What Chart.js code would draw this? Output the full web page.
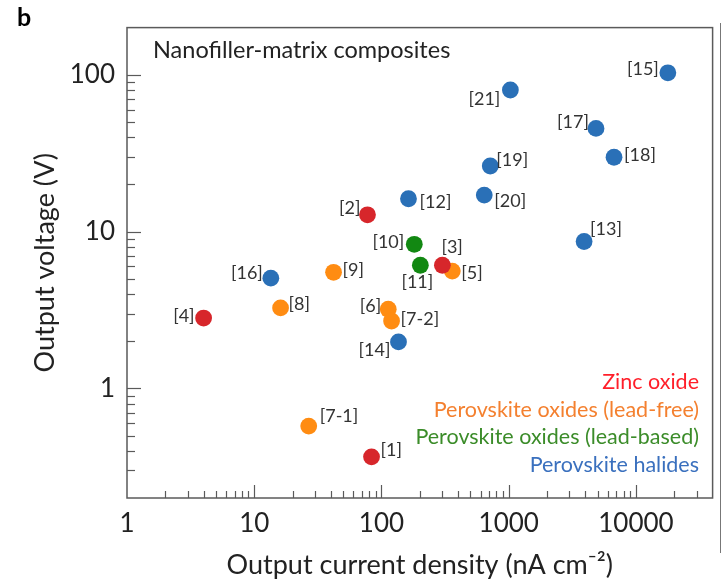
<!DOCTYPE html>
<html>
<head>
<meta charset="utf-8">
<script src="https://cdn.jsdelivr.net/npm/chart.js@4.4.0/dist/chart.umd.min.js"></script>
<style>
  html, body { margin: 0; padding: 0; background: #fff; }
  #wrap { width: 721px; height: 586px; }
</style>
</head>
<body>
<div id="wrap"><canvas id="grafico" width="721" height="586"></canvas></div>
<script>
// Categorías (leyenda) y datos por serie: [corriente nA/cm2, voltaje V]
const categorias = ["Zinc oxide", "Perovskite oxides (lead-free)", "Perovskite oxides (lead-based)", "Perovskite halides"];

const refsZnO = ["[1]", "[2]", "[3]", "[4]"];
const corrienteZnO = [83.5, 77.6, 301, 4.0];
const voltajeZnO = [0.366, 12.8, 6.1, 2.81];

const refsLibre = ["[5]", "[6]", "[7-1]", "[7-2]", "[8]", "[9]"];
const corrienteLibre = [360, 113, 26.8, 120, 16.1, 42];
const voltajeLibre = [5.6, 3.2, 0.575, 2.69, 3.26, 5.5];

const refsPlomo = ["[10]", "[11]"];
const corrientePlomo = [181, 202];
const voltajePlomo = [8.3, 6.1];

const refsHaluros = ["[12]", "[13]", "[14]", "[15]", "[16]", "[17]", "[18]", "[19]", "[20]", "[21]"];
const corrienteHaluros = [163, 3910, 136, 17800, 13.5, 4850, 6720, 716, 642, 1030];
const voltajeHaluros = [16.2, 8.65, 1.98, 103, 5.05, 45.5, 29.8, 26.2, 17.1, 80];

const ticksX = [1, 10, 100, 1000, 10000];
const ticksY = [1, 10, 100];

// estilos
const coloresPunto = ["#d7262b", "#ff8c12", "#128812", "#2a70b7"];
const coloresTexto = ["#ff1f2a", "#f4802f", "#3b8c29", "#3a70be"];
const fuente = "Lato, 'Open Sans', sans-serif";

// posición de cada etiqueta respecto a su punto: [dx, dy, alineación]
const posEtiqueta = {
  "[1]": [9, -7, "left"], "[2]": [-7, -7, "right"], "[3]": [-1, -18, "left"], "[4]": [-9, -2, "right"],
  "[5]": [9, 2, "left"], "[6]": [-7, -3, "right"], "[7-1]": [11, -10, "left"], "[7-2]": [9, -2, "left"],
  "[8]": [8, -4, "left"], "[9]": [9, -2, "left"], "[10]": [-10, -2, "right"], "[11]": [-3, 17, "center"],
  "[12]": [11, 3, "left"], "[13]": [6, -12, "left"], "[14]": [-8, 8, "right"], "[15]": [-9, -4, "right"],
  "[16]": [-8, -5, "right"], "[17]": [-7, -6, "right"], "[18]": [10, -2, "left"], "[19]": [6, -6, "left"],
  "[20]": [10, 6, "left"], "[21]": [-10, 9, "right"]
};

const series = [
  [refsZnO, corrienteZnO, voltajeZnO],
  [refsLibre, corrienteLibre, voltajeLibre],
  [refsPlomo, corrientePlomo, voltajePlomo],
  [refsHaluros, corrienteHaluros, voltajeHaluros]
];

const datasets = series.map((s, i) => ({
  label: categorias[i],
  data: s[1].map((x, j) => ({ x: x, y: s[2][j], ref: s[0][j] })),
  backgroundColor: coloresPunto[i],
  borderColor: coloresPunto[i],
  borderWidth: 0,
  pointRadius: 8.4,
  pointHoverRadius: 8.4
}));

// marco, marcas interiores, etiquetas y textos
const extras = {
  id: 'extras',
  afterDraw(chart) {
    const ctx = chart.ctx;
    const a = chart.chartArea;
    const sx = chart.scales.x, sy = chart.scales.y;
    ctx.save();
    ctx.strokeStyle = '#5a5a5a';
    ctx.lineWidth = 1.5;
    ctx.strokeRect(a.left, a.top, a.right - a.left, a.bottom - a.top);

    // marcas eje x
    ctx.lineWidth = 1.2;
    for (let d = 0; d <= 4; d++) {
      for (let k = 1; k <= 9; k++) {
        const v = k * Math.pow(10, d);
        if (v <= sx.min || v >= sx.max) continue;
        const px = Math.round(sx.getPixelForValue(v)) + 0.5;
        const len = k === 1 ? 13 : 7;
        ctx.beginPath(); ctx.moveTo(px, a.bottom); ctx.lineTo(px, a.bottom - len); ctx.stroke();
      }
    }
    // marcas eje y
    for (let d = -1; d <= 2; d++) {
      for (let k = 1; k <= 9; k++) {
        const v = k * Math.pow(10, d);
        if (v <= sy.min || v >= sy.max) continue;
        const py = Math.round(sy.getPixelForValue(v)) + 0.5;
        const len = k === 1 ? 14 : 8;
        ctx.beginPath(); ctx.moveTo(a.left, py); ctx.lineTo(a.left + len, py); ctx.stroke();
      }
    }

    // línea extra del borde derecho
    ctx.strokeStyle = '#777';
    ctx.lineWidth = 1;
    ctx.beginPath(); ctx.moveTo(720.5, 23); ctx.lineTo(720.5, 553); ctx.stroke();

    // etiquetas de referencia
    ctx.fillStyle = '#333';
    ctx.font = "18px " + fuente;
    ctx.textBaseline = 'middle';
    chart.data.datasets.forEach((ds, i) => {
      const meta = chart.getDatasetMeta(i);
      meta.data.forEach((pt, j) => {
        const ref = ds.data[j].ref;
        const p = posEtiqueta[ref];
        ctx.textAlign = p[2];
        ctx.fillText(ref, pt.x + p[0], pt.y + p[1]);
      });
    });

    // leyenda de texto
    ctx.font = "21.5px " + fuente;
    ctx.textAlign = 'right';
    categorias.forEach((c, i) => {
      ctx.fillStyle = coloresTexto[i];
      ctx.fillText(c, 699, 382 + i * 27.7);
    });

    // título interior
    ctx.fillStyle = '#222';
    ctx.font = "23.5px " + fuente;
    ctx.textAlign = 'left';
    ctx.fillText("Nanofiller-matrix composites", 153, 50);

    // letra del panel
    ctx.font = "bold 25px " + fuente;
    ctx.fillStyle = '#000';
    ctx.textBaseline = 'alphabetic';
    ctx.fillText("b", 17, 26);
    ctx.restore();
  }
};

new Chart(document.getElementById('grafico'), {
  type: 'scatter',
  data: { datasets: datasets },
  plugins: [extras],
  options: {
    responsive: false,
    animation: false,
    layout: { padding: { top: 26, right: 4, left: 0, bottom: 0 } },
    plugins: { legend: { display: false }, tooltip: { enabled: false } },
    scales: {
      x: {
        type: 'logarithmic',
        min: 1, max: 40000,
        afterBuildTicks: s => { s.ticks = ticksX.map(v => ({ value: v })); },
        afterFit: s => { s.height = 88; },
        grid: { display: false, drawTicks: false },
        border: { display: false },
        ticks: {
          padding: 10, color: '#222', font: { family: fuente, size: 26 },
          autoSkip: false, maxRotation: 0,
          callback: v => String(v)
        },
        title: {
          display: true, text: "Output current density (nA cm\u207B\u00B2)",
          color: '#222', font: { family: fuente, size: 27 }, padding: { top: 0, bottom: 5 }
        }
      },
      y: {
        type: 'logarithmic',
        min: 0.2, max: 200,
        afterBuildTicks: s => { s.ticks = ticksY.map(v => ({ value: v })); },
        afterFit: s => { s.width = 127; },
        grid: { display: false, drawTicks: false },
        border: { display: false },
        ticks: {
          padding: 12, color: '#222', font: { family: fuente, size: 26 },
          autoSkip: false,
          callback: v => String(v)
        },
        title: {
          display: true, text: "Output voltage (V)",
          color: '#222', font: { family: fuente, size: 27 }, padding: { top: 29, bottom: 0 }
        }
      }
    }
  }
});
</script>
</body>
</html>
